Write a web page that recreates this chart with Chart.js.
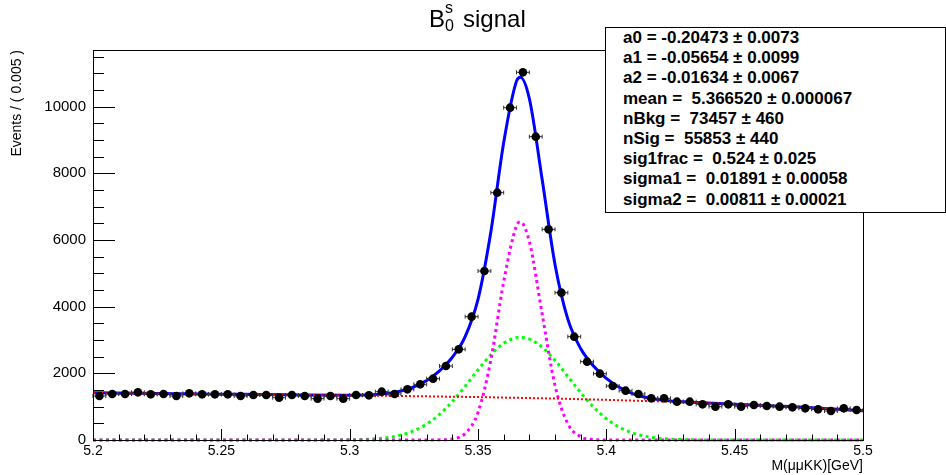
<!DOCTYPE html>
<html>
<head>
<meta charset="utf-8">
<script src="https://cdn.jsdelivr.net/npm/chart.js@4.4.1/dist/chart.umd.min.js"></script>
<style>
  html, body { margin: 0; padding: 0; background: #fff; }
  #wrap { position: relative; width: 946px; height: 475px; overflow: hidden; font-family: "Liberation Sans", Arial, sans-serif; }
  #c { position: absolute; left: 0; top: 0; }
  .t { position: absolute; color: #000; white-space: pre; line-height: 1; }
  #stats { position: absolute; left: 605px; top: 27px; width: 339px; height: 184px; border: 1px solid #000; background: #fff; font-weight: bold; font-size: 17px; }
  #stats div { position: absolute; left: 17px; white-space: pre; line-height: 20px; }
</style>
</head>
<body>
<div id="wrap">
  <canvas id="c" width="946" height="475"></canvas>
  <div class="t" style="left:429px; top:7px; font-size:24px;">B</div>
  <div class="t" style="left:445px; top:0px; font-size:16px;">s</div>
  <div class="t" style="left:445px; top:18px; font-size:16px;">0</div>
  <div class="t" style="left:463px; top:7px; font-size:24px;">signal</div>
  <div id="stats"></div>
</div>
<script>
// bins of 0.005 GeV
const binCenters = [5.2025, 5.2075, 5.2125, 5.2175, 5.2225, 5.2275, 5.2325, 5.2375, 5.2425, 5.2475,
  5.2525, 5.2575, 5.2625, 5.2675, 5.2725, 5.2775, 5.2825, 5.2875, 5.2925, 5.2975,
  5.3025, 5.3075, 5.3125, 5.3175, 5.3225, 5.3275, 5.3325, 5.3375, 5.3425, 5.3475,
  5.3525, 5.3575, 5.3625, 5.3675, 5.3725, 5.3775, 5.3825, 5.3875, 5.3925, 5.3975,
  5.4025, 5.4075, 5.4125, 5.4175, 5.4225, 5.4275, 5.4325, 5.4375, 5.4425, 5.4475,
  5.4525, 5.4575, 5.4625, 5.4675, 5.4725, 5.4775, 5.4825, 5.4875, 5.4925, 5.4975];
const events = [1320, 1380, 1380, 1430, 1370, 1380, 1320, 1400, 1370, 1370,
  1370, 1320, 1350, 1350, 1270, 1350, 1320, 1240, 1320, 1240,
  1350, 1340, 1450, 1380, 1520, 1670, 1840, 2220, 2720, 3700,
  5070, 7420, 9970, 11030, 9100, 6320, 4420, 3100, 2350, 1990,
  1620, 1480, 1380, 1250, 1250, 1150, 1150, 1070, 1000, 1070,
  1000, 1050, 1020, 1000, 980, 950, 920, 870, 950, 900];
const binHalf = 0.0025;

// fit curves
const curveX = [5.2, 5.225, 5.25, 5.275, 5.3, 5.305, 5.31, 5.315, 5.32, 5.325, 5.33, 5.335,
  5.34, 5.345, 5.35, 5.355, 5.36, 5.365, 5.3665, 5.37, 5.375, 5.38, 5.385, 5.39,
  5.395, 5.4, 5.405, 5.41, 5.415, 5.42, 5.425, 5.43, 5.435, 5.45, 5.475, 5.5];
const fitTotal = [1418, 1395, 1376, 1357, 1344, 1349, 1364, 1399, 1469, 1591, 1786, 2076,
  2482, 3101, 4216, 6240, 8920, 10766, 10884, 10244, 7812, 5266, 3626, 2744,
  2217, 1846, 1581, 1400, 1284, 1215, 1173, 1144, 1122, 1075, 987, 880];
const fitBkg = [1418, 1395, 1376, 1357, 1338, 1334, 1329, 1324, 1320, 1315, 1309, 1304,
  1298, 1293, 1287, 1280, 1273, 1266, 1264, 1258, 1251, 1243, 1233, 1224,
  1215, 1205, 1194, 1182, 1170, 1159, 1147, 1133, 1118, 1075, 987, 880];
const fitSig1 = [0, 0, 0, 0, 6, 15, 35, 75, 149, 276, 477, 768,
  1153, 1613, 2104, 2560, 2903, 3070, 3080, 3028, 2784, 2387, 1908, 1422,
  988, 640, 387, 218, 114, 56, 26, 11, 4, 0, 0, 0];
const fitSig2 = [0, 0, 0, 0, 0, 0, 0, 0, 0, 0, 0, 4,
  31, 195, 825, 2400, 4744, 6430, 6540, 5958, 3777, 1636, 485, 98,
  14, 1, 0, 0, 0, 0, 0, 0, 0, 0, 0, 0];

const xTicks = [5.2, 5.25, 5.3, 5.35, 5.4, 5.45, 5.5];
const yTicks = [0, 2000, 4000, 6000, 8000, 10000];

const statLines = [
  'a0 = -0.20473 \u00b1 0.0073',
  'a1 = -0.05654 \u00b1 0.0099',
  'a2 = -0.01634 \u00b1 0.0067',
  'mean =  5.366520 \u00b1 0.000067',
  'nBkg =  73457 \u00b1 460',
  'nSig =  55853 \u00b1 440',
  'sig1frac =  0.524 \u00b1 0.025',
  'sigma1 =  0.01891 \u00b1 0.00058',
  'sigma2 =  0.00811 \u00b1 0.00021'
];
const stats = document.getElementById('stats');
statLines.forEach((s, i) => {
  const d = document.createElement('div');
  d.textContent = s;
  d.style.top = (i * 20.2) + 'px';
  stats.appendChild(d);
});

const fam = '"Liberation Sans", Arial, sans-serif';
const pts = (xs, ys) => xs.map((x, i) => ({ x: x, y: ys[i] }));

const errorBars = {
  id: 'errorBars',
  beforeDatasetDraw(chart, args) {
    if (args.index !== 0) return;
    const ctx = chart.ctx, xs = chart.scales.x, ys = chart.scales.y;
    ctx.save();
    ctx.strokeStyle = '#333';
    ctx.lineWidth = 1;
    binCenters.forEach((c, i) => {
      const px = xs.getPixelForValue(c), py = ys.getPixelForValue(events[i]);
      const x0 = xs.getPixelForValue(c - binHalf), x1 = xs.getPixelForValue(c + binHalf);
      const e = Math.sqrt(events[i]);
      ctx.beginPath();
      ctx.moveTo(x0, py); ctx.lineTo(x1, py);
      ctx.moveTo(x0, py - 2); ctx.lineTo(x0, py + 2);
      ctx.moveTo(x1, py - 2); ctx.lineTo(x1, py + 2);
      ctx.moveTo(px, ys.getPixelForValue(events[i] - e)); ctx.lineTo(px, ys.getPixelForValue(events[i] + e));
      ctx.stroke();
    });
    ctx.restore();
  }
};

// ROOT style frame with inward ticks
const frame = {
  id: 'frame',
  afterDatasetsDraw(chart) {
    const ctx = chart.ctx, a = chart.chartArea, xs = chart.scales.x, ys = chart.scales.y;
    ctx.save();
    ctx.strokeStyle = '#000';
    ctx.lineWidth = 1;
    ctx.strokeRect(Math.round(a.left) + 0.5, Math.round(a.top) + 0.5, Math.round(a.right - a.left), Math.round(a.bottom - a.top));
    ctx.beginPath();
    for (let v = 0; v <= ys.max; v += 500) {
      const py = Math.round(ys.getPixelForValue(v)) + 0.5;
      const len = v % 2000 === 0 ? 22 : 11;
      ctx.moveTo(a.left, py); ctx.lineTo(a.left + len, py);
    }
    for (let k = 0; k <= 30; k++) {
      const px = Math.round(xs.getPixelForValue(5.2 + k * 0.01)) + 0.5;
      const len = k % 5 === 0 ? 11 : 5.5;
      ctx.moveTo(px, a.bottom); ctx.lineTo(px, a.bottom - len);
    }
    ctx.stroke();
    ctx.restore();
  }
};

new Chart(document.getElementById('c'), {
  type: 'scatter',
  data: {
    datasets: [
      { label: 'data', data: pts(binCenters, events), pointRadius: 4.3, pointBackgroundColor: '#000', pointBorderWidth: 0, showLine: false },
      { label: 'bkg', data: pts(curveX, fitBkg), showLine: true, pointRadius: 0, borderColor: '#ff0000', borderWidth: 2, borderDash: [2, 2], cubicInterpolationMode: 'monotone', clip: 5 },
      { label: 'total', data: pts(curveX, fitTotal), showLine: true, pointRadius: 0, borderColor: '#0000ff', borderWidth: 3, cubicInterpolationMode: 'monotone', clip: 5 },
      { label: 'sig2', data: pts(curveX, fitSig2), showLine: true, pointRadius: 0, borderColor: '#ff00ff', borderWidth: 3, borderDash: [3, 3.5], cubicInterpolationMode: 'monotone', clip: 5 },
      { label: 'sig1', data: pts(curveX, fitSig1), showLine: true, pointRadius: 0, borderColor: '#00ff00', borderWidth: 3, borderDash: [3, 3.5], cubicInterpolationMode: 'monotone', clip: 5 }
    ]
  },
  options: {
    responsive: false,
    animation: false,
    devicePixelRatio: 1,
    layout: { padding: { top: 50, right: 83, left: 0, bottom: 0 } },
    plugins: { legend: { display: false }, tooltip: { enabled: false }, title: { display: false } },
    scales: {
      x: {
        type: 'linear', min: 5.2, max: 5.5,
        grid: { display: false, drawTicks: false }, border: { display: false },
        afterFit(s) { s.height = 35; },
        afterBuildTicks(s) { s.ticks = xTicks.map(v => ({ value: v })); },
        ticks: { autoSkip: false, maxRotation: 0, padding: 3, color: '#000', font: { size: 14, family: fam },
          callback: v => String(Number(v.toFixed(2))) },
        title: { display: true, text: 'M(\u03bc\u03bcKK)[GeV]', align: 'end', color: '#000', font: { size: 14, family: fam }, padding: { top: 0, bottom: 0 } }
      },
      y: {
        type: 'linear', min: 0, max: 11700,
        grid: { display: false, drawTicks: false }, border: { display: false },
        afterFit(s) { s.width = 93; },
        afterBuildTicks(s) { s.ticks = yTicks.map(v => ({ value: v })); },
        ticks: { padding: 7, color: '#000', font: { size: 15, family: fam }, callback: v => String(v) },
        title: { display: true, text: 'Events / ( 0.005 )', align: 'end', color: '#000', font: { size: 14, family: fam }, padding: { top: 9, bottom: 0 } }
      }
    }
  },
  plugins: [errorBars, frame]
});
</script>
</body>
</html>
